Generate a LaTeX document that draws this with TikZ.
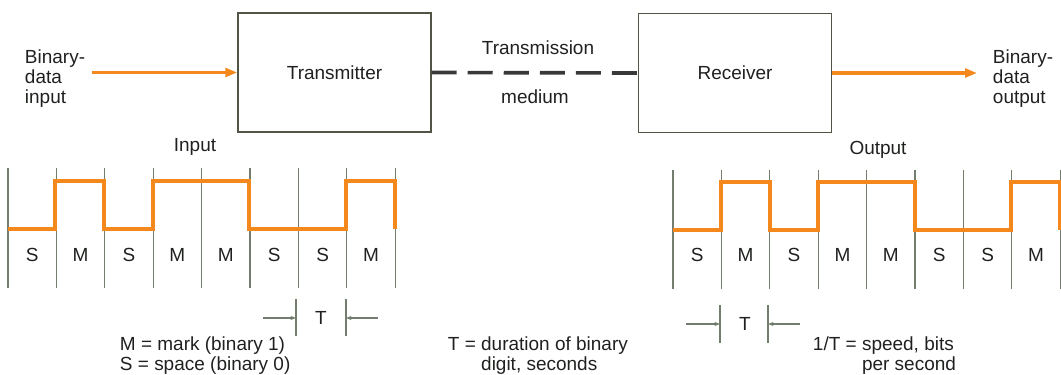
\documentclass[tikz,border=0pt]{standalone}
\usepackage{fontspec}
\setmainfont{Liberation Sans}
\usepackage{xcolor}
\usepackage{tikz}
\usetikzlibrary{arrows.meta,positioning}

\definecolor{sigorange}{RGB}{245,136,28}
\definecolor{boxline}{RGB}{80,85,70}
\definecolor{gridgray}{RGB}{115,125,110}
\definecolor{wiregray}{RGB}{55,58,55}
\definecolor{inkgray}{RGB}{30,33,30}

\begin{document}
\begin{tikzpicture}[
    x=0.025cm, y=-0.025cm,
    >=Latex,
    every node/.style={font=\fontsize{13.5}{14.2}\selectfont, text=inkgray},
    block/.style={draw=boxline, line width=1pt,
        minimum width=4.825cm, minimum height=2.975cm, inner sep=0pt},
    datapath/.style={sigorange, line width=2.4pt,
        -{Triangle[length=0.3cm,width=0.22cm]}},
    medium/.style={wiregray, line width=2.6pt,
        dash pattern=on 0.625cm off 0.275cm},
    gridline/.style={gridgray, line width=0.8pt},
    wave/.style={sigorange, line width=2.4pt, line join=miter},
    dimarrow/.style={gridgray, line width=0.8pt,
        -{Stealth[length=4pt,width=3pt]}}
]

\useasboundingbox (0,0) rectangle (1061,375);

% Blocks
\node[block] (tx) at (334.5,72.5) {Transmitter};
\node[block] (rx) at (735,73) {Receiver};

% Input side
\node[anchor=west, align=left] (bin) at (20,79)
    {Binary-\\data\\input};
\coordinate (binend) at (92,72.5);
\draw[datapath] (binend) -- (tx.west);

% Transmission medium
\draw[medium] (tx.east) -- (rx.west);
\node (mtop) at (538,48) {Transmission};
\node (mbot) at (535,97) {medium};

% Output side
\coordinate (boutend) at (977,73);
\draw[datapath] (rx.east) -- (boutend);
\node[anchor=west, align=left] (bout) at (988,79)
    {Binary-\\data\\output};

% Input waveform
\node (inlabel) at (195,147) {Input};
\foreach \i in {0,...,8}
    \draw[gridline] ({8+48.4*\i},168) -- ({8+48.4*\i},288);
\draw[wave] (8,229) -| (55,181) -| (104,229) -| (153,181)
    -| (249,229) -| (346,181) -| (395,229);
\foreach \b [count=\i from 0] in {S,M,S,M,M,S,S,M}
    \node (inbit\i) at ({32.2+48.4*\i},255) {\b};

% Output waveform
\node (outlabel) at (878,150) {Output};
\foreach \i in {0,...,8}
    \draw[gridline] ({673+48.4*\i},170) -- ({673+48.4*\i},289);
\draw[wave] (673,230) -| (721,182) -| (770,230) -| (818,182)
    -| (915,230) -| (1011,182) -| (1060,230);
\foreach \b [count=\i from 0] in {S,M,S,M,M,S,S,M}
    \node (outbit\i) at ({697.2+48.4*\i},255) {\b};

% Bit period, input
\node (tin) at (321,318) {T};
\draw[gridline] (296,299) -- (296,336) (346,299) -- (346,336);
\coordinate (tinl) at (263,318);
\coordinate (tinr) at (378,318);
\draw[dimarrow] (tinl) -- (296,318);
\draw[dimarrow] (tinr) -- (346,318);

% Bit period, output
\node (tout) at (745,324) {T};
\draw[gridline] (720,305) -- (720,343) (768,305) -- (768,343);
\coordinate (toutl) at (686,324);
\coordinate (toutr) at (800,324);
\draw[dimarrow] (toutl) -- (720,324);
\draw[dimarrow] (toutr) -- (768,324);

% Legends
\node[anchor=west, align=left] (legms) at (115,356)
    {M = mark (binary 1)\\S = space (binary 0)};
\node[anchor=west, align=left] (legt) at (443,356)
    {T = duration of binary\\\hphantom{T = }digit, seconds};
\node[anchor=west, align=left] (legrate) at (808,356)
    {1/T = speed, bits\\\hphantom{1/T = }per second};

\end{tikzpicture}
\end{document}
